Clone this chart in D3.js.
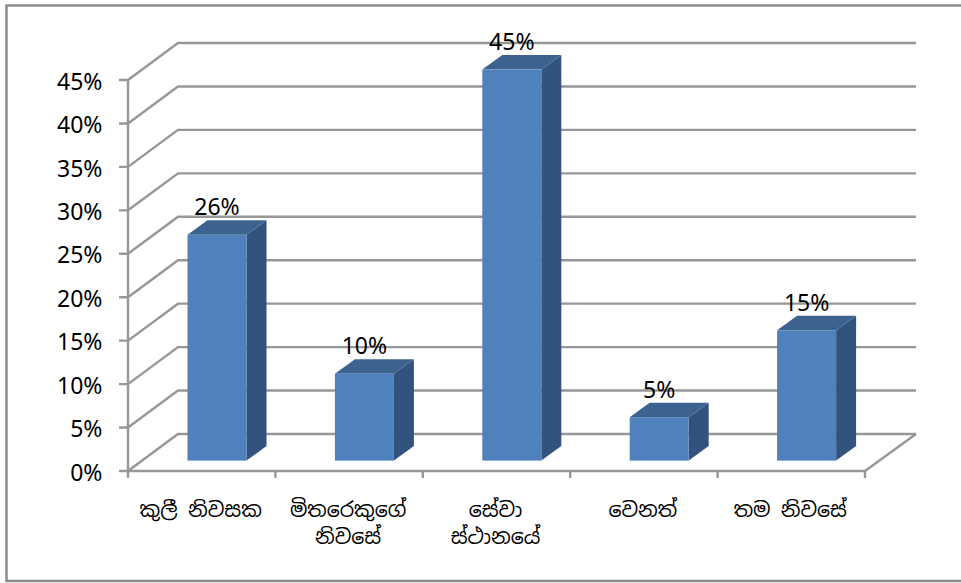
<!DOCTYPE html>
<html><head><meta charset="utf-8">
<script src="https://cdn.jsdelivr.net/npm/d3@7"></script>
<style>html,body{margin:0;padding:0;background:#fff}svg{display:block}text{font-family:"Noto Sans","DejaVu Sans",sans-serif;fill:#000}</style>
</head><body><svg id="c" width="961" height="583"></svg>
<script>
(function(){
const categories=[["කුලී නිවසක"],["මිතරෙකුගේ","නිවසේ"],["සේවා","ස්ථානයේ"],["වෙනත්"],["තම නිවසේ"]];
const values=[26,10,45,5,15];
const ticks=[0,5,10,15,20,25,30,35,40,45];
const svg=d3.select("#c");
const grey="#979797";
svg.append("path").attr("d","M961 5.5H6.5V581H961").attr("fill","none").attr("stroke","#8c8c8c").attr("stroke-width",2.5);
const y=d3.scaleLinear().domain([0,45]).range([471,80]);
const x=d3.scaleBand().domain(d3.range(5)).range([128,865]);
const dx=50,dy=-37;
const g=svg.append("g").attr("fill","none").attr("stroke",grey).attr("stroke-width",2.4);
ticks.forEach(t=>{
 g.append("path").attr("d",`M${x.range()[0]-9} ${y(t)}H${x.range()[0]}L${x.range()[0]+dx} ${y(t)+dy}H${x.range()[1]+dx+1}`);
});
g.append("path").attr("d",`M128 ${y(45)}V${y(0)+1}`);
g.append("path").attr("d",`M128 ${y(0)}H${x.range()[1]}L${x.range()[1]+dx+1} ${y(0)+dy}`);
d3.range(6).forEach(i=>{const px=128+i*x.step();g.append("path").attr("d",`M${px} ${y(0)}V${y(0)+7}`)});
svg.append("g").selectAll("text").data(ticks).join("text")
 .attr("x",102.5).attr("y",t=>y(t)+9.7).attr("text-anchor","end").attr("font-size",23).text(t=>t+"%");
const bw=59,bdx=20,bdy=-14.5,base=460.6,off=15.3;
const left=i=>x(i)+x.step()/2+off-bw/2;
const topY=v=>base-(y(0)-y(v));
const bars=svg.append("g").selectAll("g").data(values).join("g");
bars.append("path").attr("fill","#31537d").attr("d",(v,i)=>{const l=left(i)+bw,t=topY(v);return `M${l} ${t}l${bdx} ${bdy}V${base+bdy}l${-bdx} ${-bdy}Z`});
bars.append("path").attr("fill","#3c628f").attr("d",(v,i)=>{const l=left(i),t=topY(v);return `M${l} ${t}l${bdx} ${bdy}h${bw}l${-bdx} ${-bdy}Z`});
bars.append("rect").attr("fill","#4f81bd").attr("x",(v,i)=>left(i)).attr("y",v=>topY(v)).attr("width",bw).attr("height",v=>base-topY(v));
bars.append("text").attr("x",(v,i)=>left(i)+bw/2).attr("y",v=>topY(v)-19.5).attr("text-anchor","middle").attr("font-size",23).text(v=>v+"%");
const lab=svg.append("g").selectAll("text").data(categories).join("text")
 .attr("text-anchor","middle").attr("font-size",20.5).style("font-family",'"Noto Sans Sinhala","Noto Serif Sinhala","Noto Sans","DejaVu Sans",sans-serif');
lab.each(function(c,i){d3.select(this).selectAll("tspan").data(c).join("tspan").attr("x",x(i)+x.step()/2-1).attr("y",(d,j)=>517+j*27).text(d=>d)});
})();
</script></body></html>
